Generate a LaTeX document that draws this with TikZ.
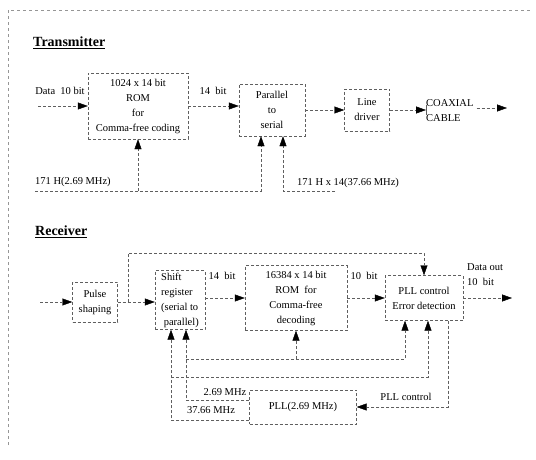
\documentclass[tikz,border=0pt]{standalone}
\usepackage{fontspec}
\setmainfont{Liberation Serif}
\usetikzlibrary{arrows.meta,positioning,calc}
\definecolor{wiregray}{RGB}{95,95,95}
\definecolor{framegray}{RGB}{150,150,150}

\begin{document}
\begin{tikzpicture}[x=1pt, y=-1pt,
    blk/.style={draw=wiregray, densely dashed, thin, align=center,
                inner sep=1pt, font=\fontsize{10.5}{15}\selectfont},
    wire/.style={draw=wiregray, densely dashed, thin},
    arr/.style={-{Triangle[length=10pt,width=7pt,color=black]}},
    lbl/.style={inner sep=0pt, font=\fontsize{10.5}{15}\selectfont},
    ttl/.style={anchor=west, inner sep=0pt,
                font=\bfseries\fontsize{14}{16}\selectfont}]
  \useasboundingbox (0,0) rectangle (536,460);
  % Frame (top and left edge only)
  \draw[draw=framegray, dashed, thin] (8,445) -- (8,10) -- (532,10);

  % Transmitter
  \node[ttl] (ttx) at (33,43) {\underline{Transmitter}};
  \node[blk, minimum width=100pt, minimum height=66pt] (rom1) at (138,106)
    {1024 x 14 bit\\ROM\\for\\Comma-free coding};
  \node[blk, minimum width=66pt, minimum height=52pt] (p2s) at (272,110)
    {Parallel\\to\\serial};
  \node[blk, minimum width=45pt, minimum height=42pt] (drv) at (367,110)
    {Line\\driver};
  \node[lbl, align=left, anchor=west] (coax) at (426,111) {COAXIAL\\CABLE};
  \coordinate (din) at (38,106);
  \coordinate (cout) at (507,108);
  \draw[wire, arr] (din) -- (rom1.west);
  \draw[wire, arr] (rom1.east) -- (rom1.east -| p2s.west);
  \draw[wire, arr] (p2s.east) -- (p2s.east -| drv.west);
  \draw[wire, arr] (drv.east) -- (drv.east -| coax.west);
  \draw[wire, solid] ([yshift=5pt]coax.west |- drv.east)
    -- ([yshift=-5pt]coax.west |- drv.east);
  \draw[wire, arr] ([xshift=3pt]coax.east |- cout) -- (cout);
  \node[lbl] (dinl) at (60,91) {Data\ \ 10 bit};
  \node[lbl] (txbit) at (213,91) {14\ \ bit};
  % Transmitter clocks
  \coordinate (clka) at (35,191);
  \coordinate (clkb) at (335,191);
  \node[lbl, anchor=west] (clkal) at (35,182) {171 H(2.69 MHz)};
  \node[lbl, anchor=west] (clkbl) at (297,183) {171 H x 14(37.66 MHz)};
  \draw[wire, arr] (clka) -| ([xshift=-11pt]p2s.south);
  \draw[wire, arr] (rom1.south |- clka) -- (rom1.south);
  \draw[wire, arr] (clkb) -| ([xshift=11pt]p2s.south);

  % Receiver
  \node[ttl] (trx) at (35,232) {\underline{Receiver}};
  \node[blk, minimum width=45pt, minimum height=40pt] (psh) at (95,302)
    {Pulse\\shaping};
  \node[blk, align=left, minimum width=50pt, minimum height=59pt] (sr)
    at (180,300) {Shift\\register\\(serial to\\\ parallel)};
  \node[blk, minimum width=102pt, minimum height=65pt] (rom2) at (296,298)
    {16384 x 14 bit\\ROM\ \ for\\Comma-free\\decoding};
  \node[blk, minimum width=78pt, minimum height=45pt] (err) at (424,298)
    {PLL control\\Error detection};
  \node[blk, minimum width=107pt, minimum height=34pt] (pll) at (303,407)
    {PLL(2.69 MHz)};
  \coordinate (rin) at (40,302);
  \coordinate (br) at (128,302);
  \coordinate (fb) at (128,253);
  \coordinate (dout) at (512,298);
  \draw[wire, arr] (rin) -- (psh.west);
  \draw[wire] (psh.east) -- (br);
  \draw[wire, arr] (br) -- (br -| sr.west);
  \draw[wire, arr] (br) -- (fb) -| (err.north);
  \draw[wire, arr] (sr.east |- rom2.west) -- (rom2.west);
  \draw[wire, arr] (rom2.east) -- (err.west);
  \draw[wire, arr] (err.east) -- (dout);
  \node[lbl] (rxbit) at (222,276) {14\ \ bit};
  \node[lbl] (wbit) at (364,276) {10\ \ bit};
  \node[lbl, align=left, anchor=west] (doutl) at (467,275) {Data out\\10\ \ bit};
  % Receiver clocks
  \coordinate (bus1) at (186,359);
  \coordinate (bus2) at (171,377);
  \draw[wire, arr] ([yshift=7pt]pll.west) -| ([xshift=6pt]sr.south);
  \draw[wire, arr] ([yshift=-13pt]pll.west) -| ([xshift=-9pt]sr.south);
  \draw[wire, arr] (bus1) -| ([xshift=-19pt]err.south);
  \draw[wire, arr] (rom2.south |- bus1) -- (rom2.south);
  \draw[wire, arr] (bus2) -| ([xshift=4pt]err.south);
  \draw[wire, arr] ([xshift=24pt]err.south) |- (pll.east);
  \node[lbl] (fa) at (225,392) {2.69 MHz};
  \node[lbl] (fb) at (211,410) {37.66 MHz};
  \node[lbl] (pllc) at (406,397) {PLL control};
\end{tikzpicture}
\end{document}
